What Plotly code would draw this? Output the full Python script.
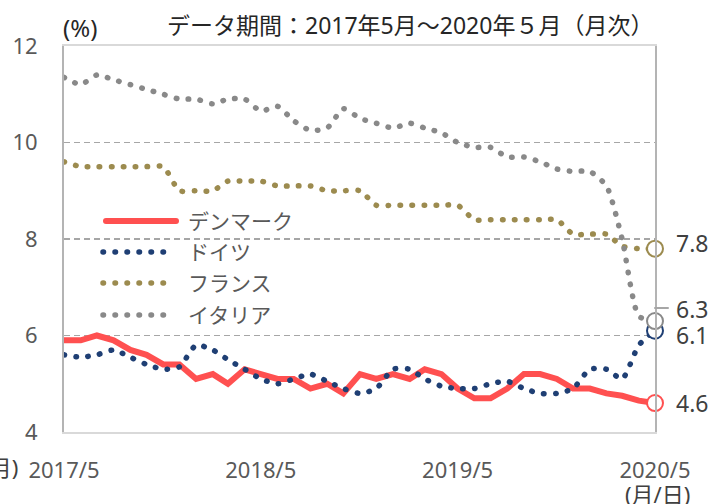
import pandas as pd
import plotly.graph_objects as go

# ---- data ----
months = pd.date_range("2017-05-01", "2020-05-01", freq="MS")
denmark = [5.9, 5.9, 6.0, 5.9, 5.7, 5.6, 5.4, 5.4, 5.1, 5.2, 5.0, 5.3, 5.2, 5.1, 5.1, 4.9, 5.0, 4.8, 5.2, 5.1,
           5.2, 5.1, 5.3, 5.2, 4.9, 4.7, 4.7, 4.9, 5.2, 5.2, 5.1, 4.9, 4.9, 4.8, 4.75, 4.65, 4.6]
germany = [5.6, 5.55, 5.6, 5.7, 5.55, 5.4, 5.3, 5.35, 5.8, 5.7, 5.5, 5.3, 5.1, 5.0, 5.1, 5.2, 5.05, 4.9, 4.8, 4.9,
           5.3, 5.3, 5.1, 4.95, 4.9, 4.9, 5.0, 5.05, 4.9, 4.8, 4.8, 4.9, 5.3, 5.3, 5.1, 5.8, 6.1]
france = [9.6, 9.5, 9.5, 9.5, 9.5, 9.5, 9.5, 9.0, 9.0, 9.0, 9.2, 9.2, 9.2, 9.1, 9.1, 9.1, 9.0, 9.0, 9.0, 8.7,
          8.7, 8.7, 8.7, 8.7, 8.7, 8.4, 8.4, 8.4, 8.4, 8.4, 8.4, 8.1, 8.1, 8.1, 7.85, 7.8, 7.8]
italy = [11.35, 11.2, 11.4, 11.3, 11.2, 11.1, 11.0, 10.9, 10.9, 10.8, 10.9, 10.9, 10.65, 10.75, 10.45, 10.25, 10.3,
         10.7, 10.5, 10.4, 10.3, 10.4, 10.3, 10.2, 10.0, 9.9, 9.9, 9.7, 9.7, 9.6, 9.45, 9.4, 9.4, 9.1, 8.0, 6.4, 6.3]
series_names = ["デンマーク", "ドイツ", "フランス", "イタリア"]
end_labels = ["4.6", "6.1", "7.8", "6.3"]
x_tickvals = ["2017-05-01", "2018-05-01", "2019-05-01", "2020-05-01"]
x_ticktext = ["2017/5", "2018/5", "2019/5", "2020/5"]
y_tickvals = [4, 6, 8, 10, 12]

# ---- style ----
FONT = "Noto Sans, Noto Sans CJK JP, sans-serif"
colors = ["#FF5050", "#1F3F74", "#9C8B4F", "#898989"]
DOT = "0.5px,11.5px"
W, H = 727, 504
L, R, T, B = 64, 655, 46, 432


def px(x):
    return (x - L) / (R - L)


def py(y):
    return (B - y) / (B - T)


fig = go.Figure()
all_series = [denmark, germany, france, italy]
for i, (name, vals) in enumerate(zip(series_names, all_series)):
    if i == 0:
        line = dict(color=colors[i], width=6)
    else:
        line = dict(color=colors[i], width=5.5, dash=DOT, shape="spline", smoothing=0.6)
    fig.add_trace(go.Scatter(x=months, y=vals, mode="lines", name=name, line=line,
                             hoverinfo="skip", cliponaxis=False))

# end markers (italy over germany)
for i in [0, 2, 1, 3]:
    vals = all_series[i]
    fig.add_trace(go.Scatter(x=[months[-1]], y=[vals[-1]], mode="markers",
                             marker=dict(size=16, color="white", line=dict(color=colors[i], width=2)),
                             hoverinfo="skip", cliponaxis=False, showlegend=False))

label_shift = [0, -4, 6, 12]
annotations = []
for i, vals in enumerate(all_series):
    annotations.append(dict(x=months[-1], y=vals[-1], xref="x", yref="y", text=end_labels[i],
                            showarrow=False, xanchor="left", yanchor="middle", xshift=19,
                            yshift=label_shift[i], font=dict(family=FONT, size=23, color="#404040")))

# legend (manual)
leg_y = [221, 252, 283, 315]
shapes = []
for i, name in enumerate(series_names):
    if i == 0:
        shapes.append(dict(type="line", xref="paper", yref="paper", x0=px(106), x1=px(176),
                           y0=py(leg_y[i]), y1=py(leg_y[i]), line=dict(color=colors[i], width=6)))
    else:
        shapes.append(dict(type="line", xref="paper", yref="paper", x0=px(103), x1=px(166),
                           y0=py(leg_y[i]), y1=py(leg_y[i]),
                           line=dict(color=colors[i], width=5.5, dash=DOT)))
    annotations.append(dict(x=px(186), y=py(leg_y[i]), xref="paper", yref="paper", text=name,
                            showarrow=False, xanchor="left", yanchor="middle",
                            font=dict(family=FONT, size=21, color="#595959")))

# leader for 6.3
shapes.append(dict(type="line", xref="paper", yref="paper", x0=1.0, x1=px(668), y0=py(308), y1=py(308),
                   line=dict(color="#A6A6A6", width=2)))

annotations += [
    dict(x=px(165), y=py(25), xref="paper", yref="paper", text="データ期間：2017年5月～2020年５月（月次）",
         showarrow=False, xanchor="left", yanchor="middle", font=dict(family=FONT, size=23, color="#262626")),
    dict(x=px(61), y=py(27), xref="paper", yref="paper", text="(%)",
         showarrow=False, xanchor="left", yanchor="middle", font=dict(family=FONT, size=24, color="#262626")),
    dict(x=px(20), y=py(467), xref="paper", yref="paper", text="(年/月)",
         showarrow=False, xanchor="right", yanchor="middle", font=dict(family=FONT, size=22, color="#404040")),
    dict(x=px(657), y=py(494), xref="paper", yref="paper", text="(月/日)",
         showarrow=False, xanchor="center", yanchor="middle", font=dict(family=FONT, size=22, color="#404040")),
]

fig.update_layout(
    width=W, height=H, autosize=False,
    margin=dict(l=L, r=W - R, t=T, b=H - B, pad=0),
    paper_bgcolor="white", plot_bgcolor="white",
    showlegend=False,
    annotations=annotations, shapes=shapes,
    font=dict(family=FONT, size=22, color="#595959"),
)
fig.update_xaxes(type="date", range=[months[0], months[-1]], tickvals=x_tickvals, ticktext=x_ticktext,
                 showgrid=False, showline=True, linecolor="#D9D9D9", linewidth=2, mirror=True,
                 ticks="", ticklabelstandoff=18, tickfont=dict(family=FONT, size=22, color="#595959"),
                 fixedrange=True)
fig.update_yaxes(range=[4, 12], tickvals=y_tickvals, showgrid=True, gridcolor="#A6A6A6", gridwidth=1.5,
                 griddash="6px,4px", zeroline=False, showline=True, linecolor="#B4B4B4", linewidth=2,
                 mirror=True, ticks="", ticklabelstandoff=20,
                 tickfont=dict(family=FONT, size=22, color="#595959"), fixedrange=True)

post = """
document.body.style.margin='0';
var gd=document.getElementById('{plot_id}');
gd.querySelectorAll('.scatterlayer path.js-line, .shapelayer path').forEach(function(p){
  p.style.strokeLinecap='round';
});
"""
fig.write_html("out.html", config={"displayModeBar": False, "staticPlot": True}, post_script=post)
